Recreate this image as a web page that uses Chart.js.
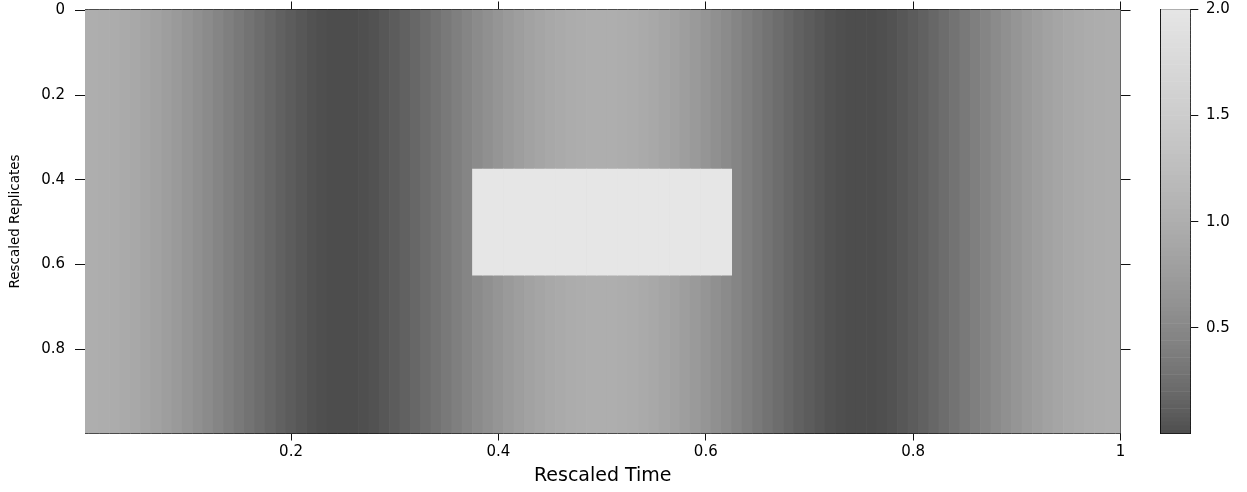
<!DOCTYPE html>
<html>
<head>
<meta charset="utf-8">
<script src="https://cdn.jsdelivr.net/npm/chart.js@4.4.1/dist/chart.umd.min.js"></script>
<style>
  html, body { margin: 0; padding: 0; background: #ffffff; }
  #wrap { position: relative; width: 1247px; height: 492px; background: #ffffff; }
  #main { position: absolute; left: 0; top: 0; }
  #key { position: absolute; left: 1130px; top: 0; }
</style>
</head>
<body>
<div id="wrap">
  <canvas id="main" width="1247" height="492"></canvas>
  <canvas id="key" width="117" height="492"></canvas>
</div>
<script>
// ---------------- data ----------------
// time grid: 0, 0.01, ..., 1 (column centres)
const timeCount = 101;
const timeStep = 0.01;
const time = [];
for (let k = 0; k < timeCount; k++) time.push(+(k * timeStep).toFixed(2));

const intensity = [
  1.000, 0.996, 0.984, 0.965, 0.938, 0.905, 0.864, 0.819, 0.768, 0.713,
  0.655, 0.594, 0.531, 0.469, 0.406, 0.345, 0.287, 0.232, 0.181, 0.136,
  0.095, 0.062, 0.035, 0.016, 0.004, 0.003, 0.004, 0.016, 0.035, 0.062,
  0.095, 0.136, 0.181, 0.232, 0.287, 0.345, 0.406, 0.469, 0.531, 0.594,
  0.655, 0.713, 0.768, 0.819, 0.864, 0.905, 0.938, 0.965, 0.984, 0.996,
  1.000, 0.996, 0.984, 0.965, 0.938, 0.905, 0.864, 0.819, 0.768, 0.713,
  0.655, 0.594, 0.531, 0.469, 0.406, 0.345, 0.287, 0.232, 0.181, 0.136,
  0.095, 0.062, 0.035, 0.016, 0.004, 0.003, 0.004, 0.016, 0.035, 0.062,
  0.095, 0.136, 0.181, 0.232, 0.287, 0.345, 0.406, 0.469, 0.531, 0.594,
  0.655, 0.713, 0.768, 0.819, 0.864, 0.905, 0.938, 0.965, 0.984, 0.996,
  1.000
];

// bright patch in the middle
const patchTime = [0.375, 0.625];
const patchReplicate = [0.375, 0.625];
const patchValue = 2.0;

// axis ranges and ticks
const timeRange = [0.0013, 1.0];
const replicateRange = [-0.002, 0.999];
const valueRange = [0, 2];
const keyRange = [0.003, 2.0];
const xTicks = [0.2, 0.4, 0.6, 0.8, 1];
const xTickLabels = ['0.2', '0.4', '0.6', '0.8', '1'];
const yTicks = [0, 0.2, 0.4, 0.6, 0.8];
const yTickLabels = ['0', '0.2', '0.4', '0.6', '0.8'];
const keyTicks = [0.5, 1.0, 1.5, 2.0];
const keyTickLabels = ['0.5', '1.0', '1.5', '2.0'];
const keyBandCount = 100;

// ---------------- helpers ----------------
Chart.defaults.font.family = "'DejaVu Sans', 'Liberation Sans', sans-serif";
Chart.defaults.color = '#000000';
const lineCol = '#111111';

function shade(v) {
  const t = Math.min(1, Math.max(0, (v - valueRange[0]) / (valueRange[1] - valueRange[0])));
  const g0 = Math.pow(0.3, 2.2), g1 = Math.pow(0.9, 2.2);
  const l = Math.round(255 * Math.pow(g0 + t * (g1 - g0), 1 / 2.2));
  return 'rgb(' + l + ',' + l + ',' + l + ')';
}
function cellColor(ctx) { return ctx.raw ? shade(ctx.raw.v) : '#888888'; }
function fixTicks(list) { return function (s) { s.ticks = list.map(v => ({ value: v })); }; }
function fitSize(prop, size) {
  return function (s) {
    s[prop] = size;
    s.paddingTop = 0; s.paddingBottom = 0; s.paddingLeft = 0; s.paddingRight = 0;
  };
}
function labelFrom(ticks, labels) { return function (v) { const i = ticks.indexOf(v); return i >= 0 ? labels[i] : ''; }; }

// ---------------- main heat map ----------------
const baseData = time.map((t, i) => ({ x: t, y: [replicateRange[0], replicateRange[1]], v: intensity[i] }));
const patchData = time
  .filter(t => t > patchTime[0] && t < patchTime[1])
  .map(t => ({ x: t, y: [patchReplicate[0], patchReplicate[1]], v: patchValue }));

const barCommon = {
  backgroundColor: cellColor, borderWidth: 0, categoryPercentage: 1, barPercentage: 1,
  grouped: false, clip: 0, xAxisID: 'x', yAxisID: 'y', stack: 'cells'
};

new Chart(document.getElementById('main'), {
  type: 'bar',
  data: {
    datasets: [
      Object.assign({ label: 'patch', data: patchData, order: 0 }, barCommon),
      Object.assign({ label: 'signal', data: baseData, order: 1 }, barCommon)
    ]
  },
  options: {
    responsive: false, animation: false, devicePixelRatio: 1,
    layout: { padding: 0 },
    plugins: { legend: { display: false }, tooltip: { enabled: false } },
    scales: {
      x: {
        type: 'linear', position: 'bottom', min: timeRange[0], max: timeRange[1], z: 1, stacked: true, offset: false,
        afterBuildTicks: fixTicks(xTicks), afterFit: fitSize('height', 58.5),
        ticks: { autoSkip: false, maxRotation: 0, padding: 3, font: { size: 15 }, color: '#000', callback: labelFrom(xTicks, xTickLabels) },
        grid: { display: true, offset: false, drawOnChartArea: false, drawTicks: true, tickLength: 7, color: lineCol },
        border: { display: true, color: lineCol, width: 1 },
        title: { display: true, text: 'Rescaled Time', font: { size: 19 }, color: '#000', padding: { top: 0, bottom: 5 } }
      },
      x2: {
        type: 'linear', position: 'top', min: timeRange[0], max: timeRange[1], z: 1, offset: false,
        afterBuildTicks: fixTicks(xTicks), afterFit: fitSize('height', 9.5),
        ticks: { display: false },
        grid: { display: true, offset: false, drawOnChartArea: false, drawTicks: true, tickLength: 8, color: lineCol },
        border: { display: true, color: lineCol, width: 1 }
      },
      y: {
        type: 'linear', position: 'left', reverse: true, min: replicateRange[0], max: replicateRange[1], z: 1, offset: false,
        afterBuildTicks: fixTicks(yTicks), afterFit: fitSize('width', 85),
        ticks: { autoSkip: false, padding: 10, font: { size: 15 }, color: '#000', callback: labelFrom(yTicks, yTickLabels) },
        grid: { display: true, offset: false, drawOnChartArea: false, drawTicks: true, tickLength: 10, color: lineCol },
        border: { display: true, color: lineCol, width: 1 },
        title: { display: true, text: 'Rescaled Replicates', font: { size: 13.5 }, color: '#000', padding: { top: 7, bottom: 0 } }
      },
      y2: {
        type: 'linear', position: 'right', reverse: true, min: replicateRange[0], max: replicateRange[1], z: 1, offset: false,
        afterBuildTicks: fixTicks(yTicks), afterFit: fitSize('width', 126.5),
        ticks: { display: false },
        grid: { display: true, offset: false, drawOnChartArea: false, drawTicks: true, tickLength: 10, color: lineCol },
        border: { display: true, color: lineCol, width: 1 }
      }
    }
  }
});

// ---------------- colour key ----------------
const keyStep = (valueRange[1] - valueRange[0]) / keyBandCount;
const keyData = [];
for (let i = 0; i < keyBandCount; i++) {
  const mid = valueRange[0] + (i + 0.5) * keyStep;
  keyData.push({ y: mid, x: [0, 1], v: mid });
}

new Chart(document.getElementById('key'), {
  type: 'bar',
  data: {
    datasets: [{
      label: 'key', data: keyData, backgroundColor: cellColor, borderWidth: 0,
      categoryPercentage: 1, barPercentage: 1, clip: 0, xAxisID: 'x', yAxisID: 'y'
    }]
  },
  options: {
    indexAxis: 'y',
    responsive: false, animation: false, devicePixelRatio: 1,
    layout: { padding: 0 },
    plugins: { legend: { display: false }, tooltip: { enabled: false } },
    scales: {
      y: {
        type: 'linear', position: 'right', min: keyRange[0], max: keyRange[1], z: 1, offset: false,
        afterBuildTicks: fixTicks(keyTicks), afterFit: fitSize('width', 56.7),
        ticks: { autoSkip: false, padding: 7.7, font: { size: 15 }, color: '#000', callback: labelFrom(keyTicks, keyTickLabels) },
        grid: { display: true, offset: false, drawOnChartArea: false, drawTicks: true, tickLength: 8, color: lineCol },
        border: { display: true, color: lineCol, width: 1 }
      },
      yl: {
        type: 'linear', position: 'left', min: keyRange[0], max: keyRange[1], z: 1, offset: false,
        afterFit: fitSize('width', 30.7),
        ticks: { display: false },
        grid: { display: true, offset: false, drawOnChartArea: false, drawTicks: false },
        border: { display: true, color: lineCol, width: 1 }
      },
      x: {
        type: 'linear', position: 'bottom', min: 0, max: 1, z: 1, offset: false,
        afterFit: fitSize('height', 58.7),
        ticks: { display: false },
        grid: { display: true, offset: false, drawOnChartArea: false, drawTicks: false },
        border: { display: true, color: lineCol, width: 1 }
      },
      xt: {
        type: 'linear', position: 'top', min: 0, max: 1, z: 1, offset: false,
        afterFit: fitSize('height', 9.3),
        ticks: { display: false },
        grid: { display: true, offset: false, drawOnChartArea: false, drawTicks: false },
        border: { display: true, color: lineCol, width: 1 }
      }
    }
  }
});
</script>
</body>
</html>
